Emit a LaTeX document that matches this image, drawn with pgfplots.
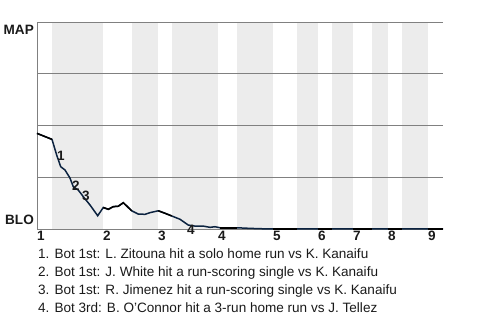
\documentclass[border=0pt]{standalone}
\usepackage{fontspec}
\setmainfont{Liberation Sans}
\usepackage{pgfplots}
\usepackage{pgfplotstable}
\pgfplotsset{compat=1.18}
\definecolor{navy}{RGB}{12,35,64}
\definecolor{band}{RGB}{236,236,236}
\definecolor{gridc}{RGB}{128,128,128}
\definecolor{txt}{RGB}{26,26,26}
\newcommand{\fs}{\fontsize{13.6}{16}\selectfont}
\pgfplotstableread{
x y
0 46.2
15 43.3
19.7 35.7
23.7 30.1
28 28.5
33 24.6
36.3 20.4
41.3 18.8
46.3 15.6
53 11.6
60.7 6.4
66.3 10.4
71.3 9.5
76.3 10.8
81.3 11.0
86.3 12.7
94.7 8.8
101.3 7.2
108 7.1
113 7.9
121.3 8.8
128 7.6
134.7 6.3
143 4.7
151.3 1.9
158 1.4
166.3 1.4
173 0.8
178 1.1
183 0.6
199.7 0.6
213 0.3
233 0
236 0
260 0
281 0
295 0
316 0
335 0
351 0
365 0
391 0
406 0
}\wpdata
\begin{document}
\begin{tikzpicture}
\path[use as bounding box] (0,0) rectangle (480bp,320bp);
\begin{axis}[at={(37bp,91bp)}, anchor=south west, scale only axis,
  width=406bp, height=207bp, xmin=0, xmax=406, ymin=0, ymax=100,
  axis line style={draw=none}, ytick=\empty,
  xtick={4,70,125,185,240,285,320,355,395}, xticklabels={1,2,3,4,5,6,7,8,9},
  major tick length=0pt,
  xticklabel style={font=\fs\bfseries, text=txt, inner sep=0pt, anchor=north, yshift=-2bp},
  clip=false]
\fill[band] (axis cs:15,0) rectangle (axis cs:66,100);
\fill[band] (axis cs:95,0) rectangle (axis cs:121,100);
\fill[band] (axis cs:135,0) rectangle (axis cs:181,100);
\fill[band] (axis cs:200,0) rectangle (axis cs:236,100);
\fill[band] (axis cs:260,0) rectangle (axis cs:281,100);
\fill[band] (axis cs:295,0) rectangle (axis cs:316,100);
\fill[band] (axis cs:335,0) rectangle (axis cs:351,100);
\fill[band] (axis cs:365,0) rectangle (axis cs:391,100);
\draw[gridc, line width=0.8bp] (axis cs:0,0) -- (axis cs:406,0);
\draw[gridc, line width=0.8bp] (axis cs:0,25) -- (axis cs:406,25);
\draw[gridc, line width=0.8bp] (axis cs:0,50) -- (axis cs:406,50);
\draw[gridc, line width=0.8bp] (axis cs:0,75) -- (axis cs:406,75);
\draw[gridc, line width=0.8bp] (axis cs:0,100) -- (axis cs:406,100);
\draw[gridc, line width=0.8bp] (axis cs:0,0) -- (axis cs:0,100);
\addplot[navy, line width=1.5bp, mark=none] table[x=x,y=y] {\wpdata};
\addplot[black, line width=1.5bp, mark=none, restrict x to domain=0:15] table[x=x,y=y] {\wpdata};
\addplot[black, line width=1.5bp, mark=none, restrict x to domain=66:95] table[x=x,y=y] {\wpdata};
\addplot[black, line width=1.5bp, mark=none, restrict x to domain=121:135] table[x=x,y=y] {\wpdata};
\addplot[black, line width=1.5bp, mark=none, restrict x to domain=181:200] table[x=x,y=y] {\wpdata};
\addplot[black, line width=1.5bp, mark=none, restrict x to domain=236:260] table[x=x,y=y] {\wpdata};
\addplot[black, line width=1.5bp, mark=none, restrict x to domain=281:295] table[x=x,y=y] {\wpdata};
\addplot[black, line width=1.5bp, mark=none, restrict x to domain=316:335] table[x=x,y=y] {\wpdata};
\addplot[black, line width=1.5bp, mark=none, restrict x to domain=351:365] table[x=x,y=y] {\wpdata};
\addplot[black, line width=1.5bp, mark=none, restrict x to domain=391:406] table[x=x,y=y] {\wpdata};
\node[font=\fs\bfseries, text=txt, inner sep=0pt] at (axis cs:24,35.3) {1};
\node[font=\fs\bfseries, text=txt, inner sep=0pt] at (axis cs:39,20.8) {2};
\node[font=\fs\bfseries, text=txt, inner sep=0pt] at (axis cs:49,15.9) {3};
\node[font=\fs\bfseries, text=txt, inner sep=0pt] at (axis cs:154,-0.5) {4};
\end{axis}
\node[anchor=base east, font=\fs\bfseries, text=txt, inner sep=0pt] at (34bp,285.5bp) {MAP};
\node[anchor=base east, font=\fs\bfseries, text=txt, inner sep=0pt] at (34bp,95.2bp) {BLO};
\begin{scope}[every node/.style={anchor=base west, font=\fs, text=txt, inner sep=0pt}]
\node at (38bp,61.7bp) {1. Bot 1st: L. Zitouna hit a solo home run vs K. Kanaifu};
\node at (38bp,43.6bp) {2. Bot 1st: J. White hit a run-scoring single vs K. Kanaifu};
\node at (38bp,25.5bp) {3. Bot 1st: R. Jimenez hit a run-scoring single vs K. Kanaifu};
\node at (38bp,7.4bp) {4. Bot 3rd: B. O'Connor hit a 3-run home run vs J. Tellez};
\end{scope}
\end{tikzpicture}
\end{document}
